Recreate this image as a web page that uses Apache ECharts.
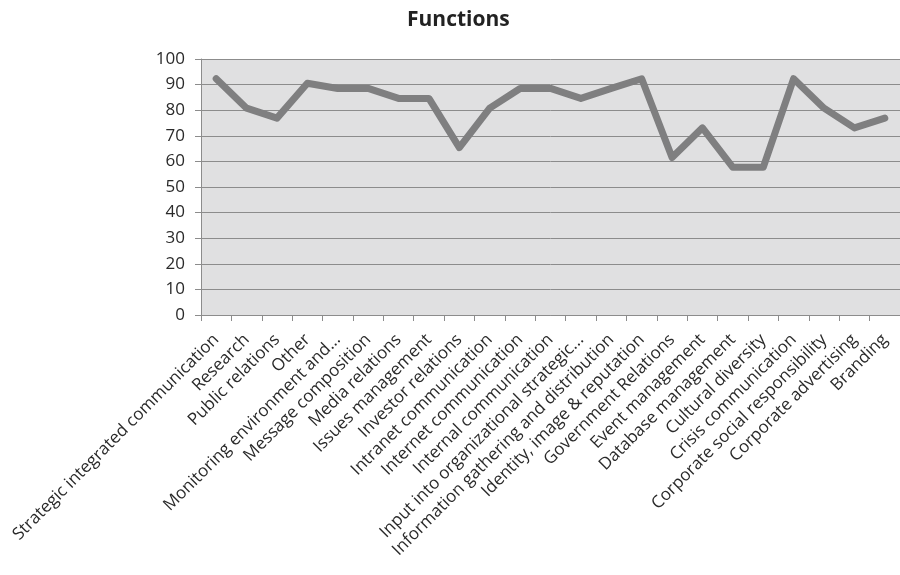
<!DOCTYPE html>
<html>
<head>
<meta charset="utf-8">
<script src="https://cdn.jsdelivr.net/npm/echarts@6/dist/echarts.min.js"></script>
<style>html,body{margin:0;padding:0;background:#fff}#c{width:900px;height:575px}</style>
</head>
<body>
<div id="c"></div>
<script>
const categories = [
  "Strategic integrated communication", "Research", "Public relations", "Other",
  "Monitoring environment and...", "Message composition", "Media relations",
  "Issues management", "Investor relations", "Intranet communication",
  "Internet communication", "Internal communication", "Input into organizational strategic...",
  "Information gathering and distribution", "Identity, image & reputation",
  "Government Relations", "Event management", "Database management", "Cultural diversity",
  "Crisis communication", "Corporate social responsibility", "Corporate advertising", "Branding"
];
const values = [92.3, 80.8, 76.9, 90.5, 88.5, 88.5, 84.6, 84.6, 65.4, 80.8, 88.5, 88.5, 84.6,
  88.5, 92.3, 61.5, 73.1, 57.7, 57.7, 92.3, 80.8, 73.1, 76.9];
const yTicks = { min: 0, max: 100, interval: 10 };

const chart = echarts.init(document.getElementById('c'), null, { renderer: 'canvas' });
chart.setOption({
  animation: false,
  title: {
    text: 'Functions', left: 402, top: 5,
    textStyle: { fontFamily: 'Open Sans', fontWeight: 'bold', fontSize: 21, color: '#222' }
  },
  grid: {
    left: 201, right: 0, top: 59, bottom: 260, show: true,
    backgroundColor: '#e0e0e1', borderWidth: 0
  },
  xAxis: {
    type: 'category', data: categories, boundaryGap: true,
    axisLine: { lineStyle: { color: '#8c8c8c', width: 1 } },
    axisTick: { show: true, length: 6, alignWithLabel: false, lineStyle: { color: '#8c8c8c' } },
    axisLabel: {
      rotate: 45, interval: 0, margin: 22, color: '#2a2a2a',
      fontFamily: 'Open Sans', fontSize: 17
    }
  },
  yAxis: {
    type: 'value', min: yTicks.min, max: yTicks.max, interval: yTicks.interval,
    axisLine: { show: true, lineStyle: { color: '#8c8c8c', width: 1 } },
    axisTick: { show: true, length: 6, lineStyle: { color: '#8c8c8c' } },
    splitLine: { lineStyle: { color: '#8c8c8c', width: 1 } },
    axisLabel: { margin: 16, color: '#2a2a2a', fontFamily: 'Open Sans', fontSize: 17 }
  },
  series: [{
    type: 'line', data: values, symbol: 'none',
    lineStyle: { color: '#7f7f80', width: 7, cap: 'round', join: 'round' }
  }]
});
</script>
</body>
</html>
